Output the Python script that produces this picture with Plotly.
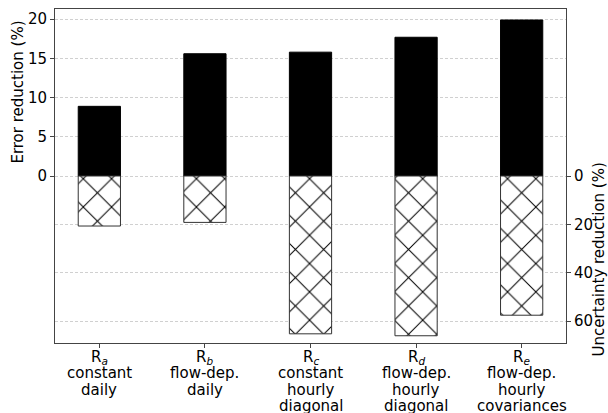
import plotly.graph_objects as go

categories = ["R<sub><i>a</i></sub><br>constant<br>daily",
              "R<sub><i>b</i></sub><br>flow-dep.<br>daily",
              "R<sub><i>c</i></sub><br>constant<br>hourly<br>diagonal",
              "R<sub><i>d</i></sub><br>flow-dep.<br>hourly<br>diagonal",
              "R<sub><i>e</i></sub><br>flow-dep.<br>hourly<br>covariances"]
error_reduction = [8.9, 15.6, 15.8, 17.7, 19.9]
uncertainty_reduction = [20.7, 19.2, 65.3, 66.1, 57.6]
left_ticks = [0, 5, 10, 15, 20]
right_ticks = [0, 20, 40, 60]

FONT = "DejaVu Sans"
FS = 15
xs = list(range(len(categories)))

fig = go.Figure()
fig.add_trace(go.Bar(
    x=xs, y=uncertainty_reduction, yaxis="y2", width=0.4,
    marker=dict(color="white", line=dict(color="#333333", width=1),
                pattern=dict(shape="x", fgcolor="black", fgopacity=1, bgcolor="white",
                             size=20, solidity=0.1)),
    showlegend=False, hoverinfo="skip"))
fig.add_trace(go.Bar(
    x=xs, y=error_reduction, yaxis="y", width=0.4,
    marker=dict(color="black", line=dict(color="black", width=1)),
    showlegend=False, hoverinfo="skip"))

axcol = "#444444"
grid = dict(showgrid=True, gridcolor="#d0d0d0", griddash="3px,2px", gridwidth=0.8)

annotations = [
    dict(text="Error reduction (%)", xref="paper", yref="y", x=0, y=10.65,
         xshift=-37, textangle=-90, showarrow=False, xanchor="center", yanchor="middle",
         font=dict(size=FS, family=FONT)),
    dict(text="Uncertainty reduction (%)", xref="paper", yref="y2", x=1, y=34.5,
         xshift=33, textangle=-90, showarrow=False, xanchor="center", yanchor="middle",
         font=dict(size=FS, family=FONT)),
]
for i, lab in enumerate(categories):
    for k, line in enumerate(lab.split("<br>")):
        annotations.append(dict(text=line, xref="x", yref="paper", x=xs[i], y=0,
                                yshift=-14 - 16.4 * k, showarrow=False,
                                xanchor="center", yanchor="middle",
                                font=dict(size=FS, family=FONT)))

fig.update_layout(
    width=608, height=413,
    margin=dict(l=55, r=42, t=9, b=70, autoexpand=False),
    plot_bgcolor="white", paper_bgcolor="white",
    font=dict(family=FONT, size=FS, color="black"),
    barmode="overlay",
    xaxis=dict(range=[-0.42, 4.42], tickvals=xs, ticktext=[""] * len(xs),
               showgrid=False, showline=True, linecolor=axcol, linewidth=1, mirror=True,
               ticks="outside", ticklen=4, tickcolor=axcol, zeroline=False, automargin=False),
    yaxis=dict(range=[-21.25, 21.3], tickvals=left_ticks, **grid,
               showline=True, linecolor=axcol, linewidth=1, zeroline=False,
               ticks="outside", ticklen=4, tickcolor=axcol, automargin=False,
               tickfont=dict(size=FS, family=FONT)),
    yaxis2=dict(range=[69.1, -69.1], tickvals=right_ticks, overlaying="y", side="right",
                **grid, showline=True, linecolor=axcol, linewidth=1, zeroline=False,
                ticks="outside", ticklen=4, tickcolor=axcol, automargin=False,
                tickfont=dict(size=FS, family=FONT)),
    annotations=annotations,
)

fig.write_html("out.html", config={"displayModeBar": False},
               post_script="document.body.style.margin='0';document.body.style.overflow='hidden';")
